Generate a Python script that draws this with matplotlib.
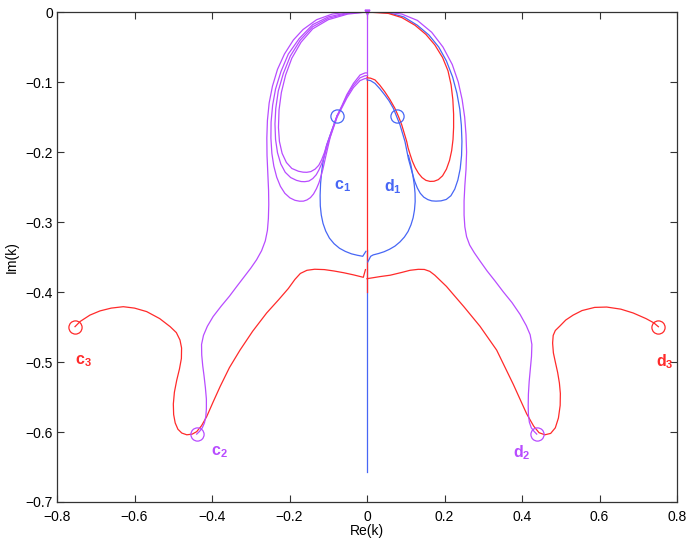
import matplotlib
matplotlib.use("Agg")
import matplotlib.pyplot as plt

plt.rcParams['font.family'] = ['Liberation Sans', 'DejaVu Sans']
plt.rcParams['mathtext.fontset'] = 'custom'
plt.rcParams['mathtext.bf'] = 'Liberation Sans:bold'
plt.rcParams['mathtext.rm'] = 'Liberation Sans'

RED = '#ff2a2a'
BLUE = '#4766f5'
PURPLE = '#b84cff'

# ---- red outer trajectory (c3 -> centre) ----
red_left_x = [-0.7535, -0.740, -0.715, -0.689, -0.660, -0.629, -0.600, -0.5686, -0.535, -0.508, -0.492,
              -0.4826, -0.4785, -0.479, -0.484, -0.491, -0.497, -0.4998, -0.499, -0.495, -0.488, -0.478,
              -0.465, -0.451, -0.4395, -0.427, -0.4137, -0.397, -0.379, -0.355, -0.3277, -0.295, -0.259,
              -0.228, -0.203, -0.186, -0.172, -0.155, -0.135, -0.110, -0.085, -0.060, -0.035, -0.0095, -0.004]
red_left_y = [-0.4495, -0.442, -0.433, -0.427, -0.423, -0.421, -0.423, -0.428, -0.438, -0.4495, -0.458,
              -0.4686, -0.480, -0.495, -0.510, -0.526, -0.543, -0.560, -0.575, -0.587, -0.596, -0.6015,
              -0.604, -0.603, -0.5995, -0.591, -0.578, -0.557, -0.535, -0.508, -0.483, -0.456, -0.430,
              -0.411, -0.395, -0.382, -0.3735, -0.369, -0.3675, -0.368, -0.370, -0.3725, -0.3755, -0.379, -0.368]
# ---- red outer trajectory (centre -> d3) ----
red_right_x = [0.0, 0.0335, 0.060, 0.090, 0.111, 0.1325, 0.148, 0.162, 0.175, 0.190, 0.205, 0.222, 0.250,
               0.2916, 0.3346, 0.3776, 0.412, 0.430, 0.444, 0.459, 0.474, 0.486, 0.494, 0.4985, 0.499, 0.4965,
               0.492, 0.486, 0.481, 0.479, 0.4805, 0.486, 0.498, 0.513, 0.532, 0.555, 0.5875, 0.6186, 0.655,
               0.687, 0.720, 0.740, 0.752]
red_right_y = [-0.381, -0.378, -0.376, -0.372, -0.369, -0.3676, -0.3678, -0.3705, -0.376, -0.384, -0.392,
               -0.403, -0.421, -0.449, -0.483, -0.532, -0.574, -0.5915, -0.601, -0.604, -0.602, -0.594,
               -0.580, -0.562, -0.545, -0.530, -0.515, -0.500, -0.487, -0.473, -0.462, -0.455, -0.4485,
               -0.440, -0.433, -0.4265, -0.422, -0.4215, -0.4245, -0.430, -0.438, -0.444, -0.4496]

# ---- purple outer trajectories (top -> c2, top -> d2) ----
pur_left_x = [0.0, -0.05, -0.09, -0.13, -0.165, -0.19, -0.213, -0.231, -0.244, -0.2525, -0.257, -0.2585,
              -0.258, -0.256, -0.254, -0.2535, -0.2545, -0.257, -0.2625, -0.272, -0.285, -0.300, -0.318,
              -0.336, -0.355, -0.376, -0.397, -0.412, -0.422, -0.427, -0.4265, -0.424, -0.4205, -0.417,
              -0.4145, -0.4145, -0.416, -0.4195, -0.425, -0.432, -0.4395]
pur_left_y = [0.0, 0.0, -0.003, -0.011, -0.025, -0.040, -0.060, -0.082, -0.106, -0.130, -0.155, -0.180,
              -0.205, -0.230, -0.255, -0.275, -0.295, -0.312, -0.327, -0.341, -0.354, -0.366, -0.379,
              -0.392, -0.406, -0.420, -0.435, -0.449, -0.462, -0.475, -0.490, -0.505, -0.520, -0.537,
              -0.553, -0.567, -0.578, -0.587, -0.594, -0.599, -0.603]
pur_right_x = [0.0, 0.05, 0.09, 0.13, 0.167, 0.196, 0.220, 0.2355, 0.2455, 0.252, 0.2555, 0.257, 0.2555,
               0.2525, 0.2505, 0.2505, 0.2525, 0.257, 0.265, 0.277, 0.292, 0.310, 0.330, 0.352, 0.374,
               0.395, 0.411, 0.421, 0.4255, 0.4245, 0.4215, 0.4185, 0.4165, 0.416, 0.4165, 0.419, 0.424,
               0.431, 0.438]
pur_right_y = [0.0, 0.0, -0.003, -0.012, -0.029, -0.050, -0.075, -0.100, -0.125, -0.150, -0.175, -0.200,
               -0.225, -0.248, -0.270, -0.290, -0.307, -0.321, -0.333, -0.344, -0.356, -0.370, -0.384,
               -0.400, -0.415, -0.432, -0.448, -0.461, -0.475, -0.492, -0.510, -0.528, -0.546, -0.562,
               -0.575, -0.586, -0.594, -0.599, -0.603]

# ---- purple inner loops on the left (top -> around -> c1 -> centre) ----
loopA_x = [0.0, -0.05, -0.10, -0.14, -0.17, -0.194, -0.21, -0.221, -0.227, -0.2285, -0.226, -0.219,
           -0.208, -0.194, -0.177, -0.165, -0.1555, -0.145, -0.134, -0.1245, -0.117, -0.110, -0.104,
           -0.090, -0.077, -0.064, -0.052, -0.035, -0.018, -0.005, 0.0]
loopA_y = [0.0, -0.003, -0.011, -0.024, -0.043, -0.066, -0.090, -0.115, -0.140, -0.165, -0.185, -0.202,
           -0.215, -0.2235, -0.2275, -0.2288, -0.229, -0.228, -0.2245, -0.219, -0.211, -0.201, -0.190,
           -0.168, -0.148, -0.133, -0.118, -0.102, -0.090, -0.087, -0.087]
loopB_x = [0.0, -0.05, -0.10, -0.14, -0.172, -0.198, -0.216, -0.229, -0.2355, -0.2375, -0.236, -0.231,
           -0.2225, -0.211, -0.197, -0.182, -0.170, -0.1605, -0.150, -0.140, -0.131, -0.124, -0.118,
           -0.113, -0.107, -0.102, -0.089, -0.077, -0.064, -0.052, -0.035, -0.018, -0.005, 0.0]
loopB_y = [0.0, -0.002, -0.009, -0.021, -0.040, -0.063, -0.088, -0.113, -0.138, -0.160, -0.182, -0.201,
           -0.217, -0.229, -0.2365, -0.2405, -0.2422, -0.2424, -0.2415, -0.238, -0.2325, -0.2255, -0.218,
           -0.211, -0.200, -0.190, -0.168, -0.148, -0.134, -0.120, -0.105, -0.094, -0.091, -0.091]
loopC_x = [0.0, -0.05, -0.10, -0.14, -0.175, -0.203, -0.222, -0.236, -0.2435, -0.2475, -0.248, -0.2455,
           -0.2405, -0.233, -0.2235, -0.212, -0.199, -0.186, -0.174, -0.164, -0.155, -0.146, -0.138,
           -0.1305, -0.124, -0.1185, -0.114, -0.108, -0.095, -0.077, -0.064, -0.052, -0.035, -0.018,
           -0.005, 0.0]
loopC_y = [0.0, -0.001, -0.007, -0.018, -0.038, -0.060, -0.085, -0.110, -0.133, -0.157, -0.180, -0.202,
           -0.220, -0.236, -0.249, -0.259, -0.2655, -0.269, -0.2703, -0.2702, -0.2685, -0.2652, -0.260,
           -0.2525, -0.244, -0.234, -0.225, -0.210, -0.179, -0.150, -0.136, -0.123, -0.108, -0.098,
           -0.095, -0.095]

# ---- right inner loops (red, blue) ----
redloop_x = [0.0, 0.055, 0.09, 0.124, 0.152, 0.175, 0.195, 0.209, 0.217, 0.2215, 0.2235, 0.2235, 0.222,
             0.2185, 0.213, 0.205, 0.195, 0.184, 0.173, 0.1626, 0.152, 0.142, 0.133, 0.1245, 0.117, 0.111,
             0.106, 0.1025, 0.096, 0.0895, 0.081, 0.072, 0.059, 0.046, 0.033, 0.0206, 0.009, 0.0]
redloop_y = [0.0, -0.002, -0.008, -0.019, -0.032, -0.047, -0.065, -0.084, -0.104, -0.125, -0.146, -0.165,
             -0.182, -0.198, -0.212, -0.2245, -0.234, -0.2395, -0.2418, -0.242, -0.2405, -0.2365, -0.2305,
             -0.2225, -0.213, -0.203, -0.194, -0.185, -0.173, -0.161, -0.149, -0.1376, -0.125, -0.114,
             -0.1045, -0.097, -0.0945, -0.094]
blueloop_x = [0.0, 0.055, 0.095, 0.13, 0.16, 0.185, 0.205, 0.221, 0.232, 0.2395, 0.2435, 0.245, 0.244,
              0.2405, 0.2345, 0.2265, 0.2165, 0.2045, 0.191, 0.178, 0.167, 0.157, 0.1465, 0.1375, 0.13,
              0.1235, 0.118, 0.113, 0.107, 0.098, 0.085, 0.068, 0.057, 0.046, 0.033, 0.0206, 0.009, 0.0]
blueloop_y = [0.0, -0.001, -0.007, -0.019, -0.033, -0.050, -0.070, -0.093, -0.116, -0.139, -0.162, -0.185,
              -0.205, -0.224, -0.240, -0.253, -0.2625, -0.2678, -0.2698, -0.2702, -0.2698, -0.268, -0.2645,
              -0.259, -0.2515, -0.2425, -0.2325, -0.222, -0.210, -0.185, -0.161, -0.1376, -0.127, -0.1186,
              -0.1095, -0.102, -0.098, -0.097]

# ---- blue c1 / d1 trajectories down to the centre ----
blue_c1_x = [-0.077, -0.090, -0.104, -0.1125, -0.117, -0.1198, -0.121, -0.1205, -0.118, -0.1135, -0.1065,
             -0.097, -0.085, -0.071, -0.056, -0.040, -0.025, -0.011, -0.003]
blue_c1_y = [-0.148, -0.168, -0.190, -0.211, -0.228, -0.245, -0.262, -0.277, -0.290, -0.302, -0.313,
             -0.323, -0.331, -0.3375, -0.342, -0.3455, -0.3475, -0.349, -0.342]
blue_d1_x = [0.107, 0.113, 0.118, 0.1218, 0.124, 0.1243, 0.1225, 0.119, 0.1135, 0.106, 0.0965, 0.085,
             0.072, 0.058, 0.044, 0.030, 0.016, 0.0095, 0.002]
blue_d1_y = [-0.205, -0.218, -0.232, -0.246, -0.259, -0.271, -0.283, -0.294, -0.304, -0.3135, -0.3215,
             -0.3285, -0.3345, -0.339, -0.3425, -0.345, -0.347, -0.349, -0.357]

# ---- vertical branches on Re(k)=0 ----
vert_purple_y = [0.0, -0.090]
vert_red_y = [-0.090, -0.400]
vert_blue_y = [-0.340, -0.657]

# ---- start points & labels ----
start_names = ['c1', 'd1', 'c2', 'd2', 'c3', 'd3']
start_x = [-0.0766, 0.0766, -0.4395, 0.438, -0.7535, 0.752]
start_y = [-0.148, -0.148, -0.603, -0.603, -0.4495, -0.4496]
label_text = [r'$\mathbf{c_1}$', r'$\mathbf{d_1}$', r'$\mathbf{c_2}$', r'$\mathbf{d_2}$',
              r'$\mathbf{c_3}$', r'$\mathbf{d_3}$']
label_x = [-0.0645, 0.068, -0.382, 0.400, -0.733, 0.769]
label_y = [-0.249, -0.249, -0.629, -0.629, -0.499, -0.499]
start_colors = [BLUE, BLUE, PURPLE, PURPLE, RED, RED]

x_ticks = [-0.8, -0.6, -0.4, -0.2, 0.0, 0.2, 0.4, 0.6, 0.8]
x_tick_labels = ['\u22120.8', '\u22120.6', '\u22120.4', '\u22120.2', '0', '0.2', '0.4', '0.6', '0.8']
y_ticks = [-0.7, -0.6, -0.5, -0.4, -0.3, -0.2, -0.1, 0.0]
y_tick_labels = ['\u22120.7', '\u22120.6', '\u22120.5', '\u22120.4', '\u22120.3', '\u22120.2', '\u22120.1', '0']

fig = plt.figure(figsize=(6.92, 5.42), dpi=100)
ax = fig.add_axes([57 / 692, 40 / 542, 620 / 692, 490 / 542])

lw = 0.9
ax.plot([0, 0], vert_blue_y, color=BLUE, lw=lw)
ax.plot([0, 0], vert_red_y, color=RED, lw=lw)
ax.plot([0, 0], vert_purple_y, color=PURPLE, lw=lw)

ax.plot(blue_c1_x, blue_c1_y, color=BLUE, lw=lw)
ax.plot(blue_d1_x, blue_d1_y, color=BLUE, lw=lw)
ax.plot(blueloop_x, blueloop_y, color=BLUE, lw=lw)
ax.plot(redloop_x, redloop_y, color=RED, lw=lw)
ax.plot(red_left_x, red_left_y, color=RED, lw=lw)
ax.plot(red_right_x, red_right_y, color=RED, lw=lw)
for lx, ly in [(loopA_x, loopA_y), (loopB_x, loopB_y), (loopC_x, loopC_y)]:
    ax.plot(lx, ly, color=PURPLE, lw=lw)
ax.plot(pur_left_x, pur_left_y, color=PURPLE, lw=lw)
ax.plot(pur_right_x, pur_right_y, color=PURPLE, lw=lw)
ax.plot([0], [0], marker='v', color=PURPLE, ms=3.5, clip_on=False)

for sx, sy, c in zip(start_x, start_y, start_colors):
    ax.plot([sx], [sy], marker='o', ms=9.5, mfc='none', mec=c, mew=0.9)
for t, lx, ly, c in zip(label_text, label_x, label_y, start_colors):
    ax.text(lx, ly, t, color=c, fontsize=11.5, ha='center', va='center')

ax.set_xlim(-0.8, 0.8)
ax.set_ylim(-0.7, 0.0)
ax.set_xticks(x_ticks)
ax.set_xticklabels(x_tick_labels)
ax.set_yticks(y_ticks)
ax.set_yticklabels(y_tick_labels)
ax.tick_params(direction='in', top=True, right=True, length=5, width=0.8, labelsize=10,
               color='#333333')
ax.tick_params(axis='x', pad=6)
ax.tick_params(axis='y', pad=3)
for s in ax.spines.values():
    s.set_color('#333333')
    s.set_linewidth(0.9)
ax.set_xlabel('Re(k)', fontsize=10, labelpad=0)
ax.set_ylabel('Im(k)', fontsize=10, labelpad=5)

fig.savefig('out.png', dpi=100)
